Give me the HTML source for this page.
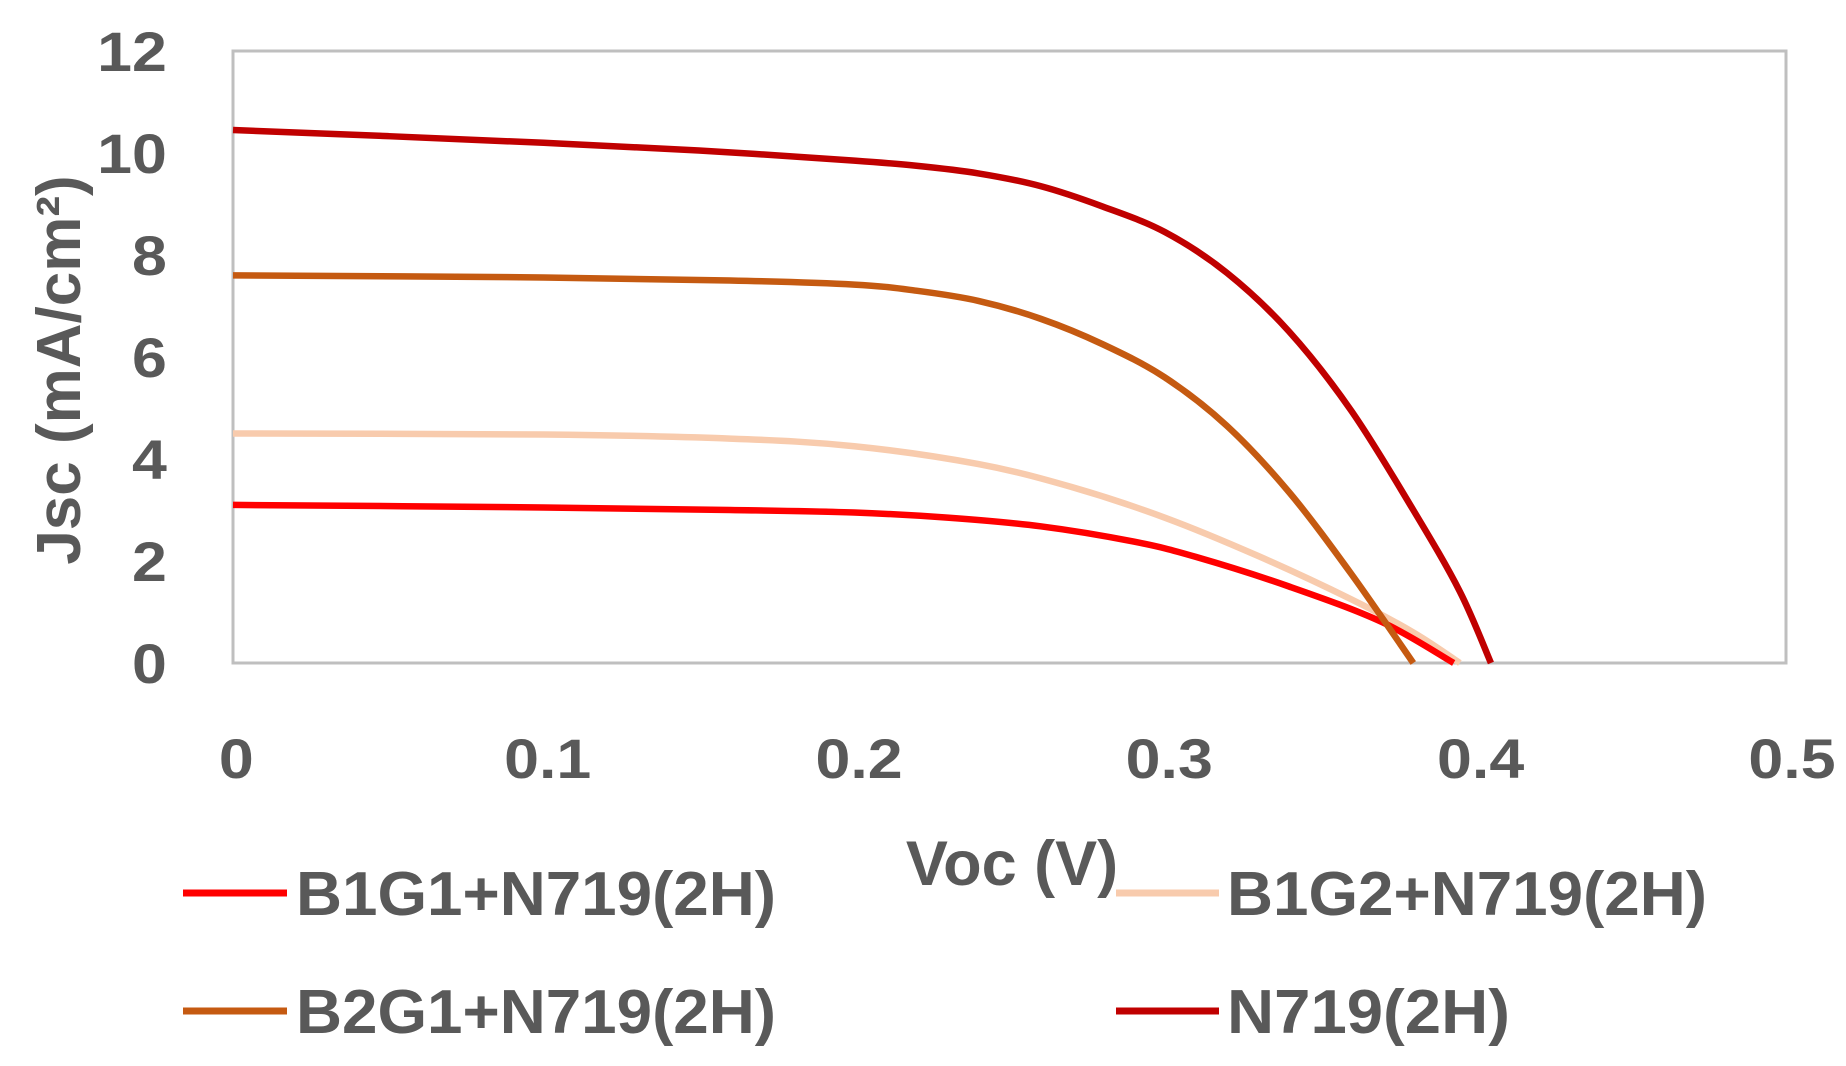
<!DOCTYPE html>
<html><head><meta charset="utf-8"><style>
html,body{margin:0;padding:0;background:#fff;}
svg{display:block;}
text{font-family:"Liberation Sans",sans-serif;font-weight:bold;fill:#595959;}
</style></head><body>
<svg id="s" width="1846" height="1066" viewBox="0 0 1846 1066" xmlns="http://www.w3.org/2000/svg">
<rect x="233" y="51" width="1553" height="612" fill="#fff" stroke="#BFBFBF" stroke-width="3"/>
<g font-size="56" text-anchor="end" transform="scale(1.12,1)">
<text x="149" y="683">0</text>
<text x="149" y="581">2</text>
<text x="149" y="479">4</text>
<text x="149" y="377">6</text>
<text x="149" y="275">8</text>
<text x="149" y="173">10</text>
<text x="149" y="71">12</text>
</g>
<g font-size="56" text-anchor="middle" transform="scale(1.12,1)">
<text x="211" y="778">0</text>
<text x="489" y="778">0.1</text>
<text x="767" y="778">0.2</text>
<text x="1044" y="778">0.3</text>
<text x="1322" y="778">0.4</text>
<text x="1600" y="778">0.5</text>
</g>
<text font-size="62" text-anchor="middle" transform="translate(80,370) rotate(-90)">Jsc (mA/cm²)</text>
<text font-size="63" text-anchor="middle" x="1012" y="885">Voc (V)</text>
<g id="curves" fill="none" stroke-width="6.5" stroke-linejoin="round"></g>
<g stroke-width="7">
<line x1="183" y1="893" x2="287" y2="893" stroke="#FF0000"/>
<line x1="1116" y1="893" x2="1219" y2="893" stroke="#F8CBAD"/>
<line x1="183" y1="1011" x2="287" y2="1011" stroke="#C55A11"/>
<line x1="1116" y1="1011" x2="1219" y2="1011" stroke="#C00000"/>
</g>
<g font-size="62">
<text x="296" y="915" textLength="480" lengthAdjust="spacingAndGlyphs">B1G1+N719(2H)</text>
<text x="1227" y="915" textLength="480" lengthAdjust="spacingAndGlyphs">B1G2+N719(2H)</text>
<text x="296" y="1033" textLength="480" lengthAdjust="spacingAndGlyphs">B2G1+N719(2H)</text>
<text x="1227" y="1033" textLength="283" lengthAdjust="spacingAndGlyphs">N719(2H)</text>
</g>
</svg>
<script>
const X=v=>233+v*3106, Y=j=>663-j*51;
const series=[
["#F8CBAD",[[0,4.5],[0.1,4.48],[0.16,4.4],[0.2,4.25],[0.24,3.9],[0.27,3.45],[0.3,2.85],[0.33,2.1],[0.36,1.25],[0.38,0.6],[0.395,0]]],
["#FF0000",[[0,3.1],[0.1,3.05],[0.16,3.0],[0.2,2.95],[0.23,2.85],[0.26,2.68],[0.29,2.38],[0.31,2.08],[0.34,1.5],[0.37,0.8],[0.393,0]]],
["#C55A11",[[0,7.6],[0.1,7.56],[0.16,7.5],[0.2,7.42],[0.22,7.3],[0.24,7.1],[0.26,6.75],[0.28,6.25],[0.3,5.6],[0.32,4.65],[0.34,3.35],[0.36,1.75],[0.38,0]]],
["#C00000",[[0,10.45],[0.05,10.33],[0.1,10.2],[0.15,10.05],[0.2,9.85],[0.22,9.75],[0.24,9.6],[0.26,9.35],[0.28,8.95],[0.3,8.45],[0.32,7.65],[0.34,6.5],[0.36,4.95],[0.38,3.0],[0.395,1.4],[0.405,0]]]
];
const g=document.getElementById('curves');
for(const [c,d] of series){
 const p=d.map(([v,j])=>[X(v),Y(j)]);
 let s=`M${p[0][0]},${p[0][1]}`;
 for(let i=0;i<p.length-1;i++){
  const p0=p[Math.max(0,i-1)],p1=p[i],p2=p[i+1],p3=p[Math.min(p.length-1,i+2)];
  const c1=[p1[0]+(p2[0]-p0[0])/6,p1[1]+(p2[1]-p0[1])/6];
  const c2=[p2[0]-(p3[0]-p1[0])/6,p2[1]-(p3[1]-p1[1])/6];
  s+=` C${c1[0]},${c1[1]} ${c2[0]},${c2[1]} ${p2[0]},${p2[1]}`;
 }
 const e=document.createElementNS('http://www.w3.org/2000/svg','path');
 e.setAttribute('d',s);e.setAttribute('stroke',c);g.appendChild(e);
}
</script>
</body></html>
